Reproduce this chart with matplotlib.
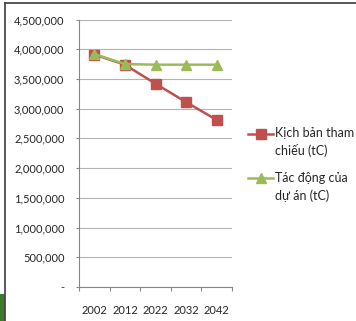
import matplotlib
matplotlib.use('Agg')
import matplotlib.pyplot as plt
import matplotlib.transforms as mtransforms
from matplotlib.patches import Rectangle
from matplotlib.lines import Line2D
from matplotlib.legend_handler import HandlerLine2D

# Données
years = ['2002', '2012', '2022', '2032', '2042']
kich_ban = [3910000, 3740000, 3420000, 3110000, 2810000]
tac_dong = [3920000, 3750000, 3740000, 3740000, 3740000]
labels = ['Kịch bản tham\nchiếu (tC)', 'Tác động của\ndự án (tC)']
yticks = [0, 500000, 1000000, 1500000, 2000000, 2500000, 3000000, 3500000, 4000000, 4500000]

plt.rcParams['font.family'] = ['Lato', 'DejaVu Sans']


# Poignée de légende alignée sur la première ligne du texte
class HandlerHaut(HandlerLine2D):
    def create_artists(self, legend, orig_handle, xdescent, ydescent, width, height, fontsize, trans):
        arts = super().create_artists(legend, orig_handle, xdescent, ydescent, width, height, fontsize, trans)
        decal = mtransforms.Affine2D().translate(0, 0.75 * fontsize) + trans
        for a in arts:
            a.set_transform(decal)
        return arts


fig = plt.figure(figsize=(3.56, 3.21), dpi=100)
fig.patch.set_facecolor('white')

# Cadre et bloc vert
fig.add_artist(Rectangle((0, 0), 5 / 356, 27 / 321, transform=fig.transFigure,
                         facecolor='#3d7a2c', edgecolor='none'))
fig.add_artist(Line2D([5 / 356, 5 / 356], [0, 318 / 321], transform=fig.transFigure,
                      color='#4a4a4a', lw=1.3))
fig.add_artist(Line2D([5 / 356, 1], [318 / 321, 318 / 321], transform=fig.transFigure,
                      color='#4a4a4a', lw=1.3))

ax = fig.add_axes([79 / 356, 34 / 321, 153 / 356, 267.5 / 321])
x = range(len(years))
ax.plot(x, kich_ban, color='#c0504d', marker='s', markersize=6.5, lw=1.8, label=labels[0], zorder=3)
ax.plot(x, tac_dong, color='#9bbb59', marker='^', markersize=7, lw=1.8, label=labels[1], zorder=4)

ax.set_xlim(-0.5, len(years) - 0.5)
ax.set_ylim(0, 4500000)
ax.set_yticks(yticks)
ax.set_yticklabels(['-'] + ['{:,}'.format(v) for v in yticks[1:]])
ax.set_xticks([i + 0.5 for i in range(-1, len(years))])
ax.set_xticklabels([])
ax.set_xticks(list(x), minor=True)
ax.set_xticklabels(years, minor=True)
ax.tick_params(axis='x', which='minor', length=0, pad=13, labelsize=8, colors='#262626')
ax.tick_params(axis='x', which='major', length=3, color='#868686')
ax.tick_params(axis='y', length=2.5, color='#868686', labelsize=8, labelcolor='#262626', pad=8)
ax.grid(axis='y', color='#b3b3b3', lw=0.8)
ax.set_axisbelow(True)
for s in ['top', 'right']:
    ax.spines[s].set_visible(False)
for s in ['left', 'bottom']:
    ax.spines[s].set_color('#868686')
    ax.spines[s].set_linewidth(0.8)

leg = ax.legend(loc='center left', bbox_to_anchor=(248 / 356, 156.5 / 321), bbox_transform=fig.transFigure,
                frameon=False, fontsize=9, handlelength=2.0, handletextpad=0.15, labelspacing=1.2,
                borderpad=0, borderaxespad=0, labelcolor='#262626',
                handler_map={Line2D: HandlerHaut()})
for t in leg.get_texts():
    t.set_linespacing(1.45)

plt.savefig('out.png', dpi=100)
